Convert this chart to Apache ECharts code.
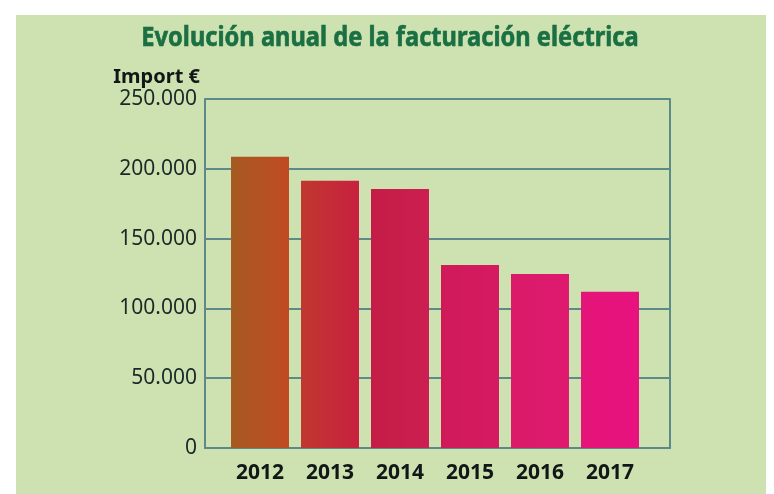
<!DOCTYPE html>
<html>
<head>
<meta charset="utf-8">
<script src="https://cdn.jsdelivr.net/npm/echarts@6/dist/echarts.min.js"></script>
<style>
html,body{margin:0;padding:0;background:#ffffff;}
#chart{width:774px;height:494px;}
</style>
</head>
<body>
<div id="chart"></div>
<script>
const titleText = 'Evolución anual de la facturación eléctrica';
const yAxisName = 'Import €';
const categories = ['2012', '2013', '2014', '2015', '2016', '2017'];
const values = [208700, 191500, 185500, 131000, 124600, 112000];
const colorsLeft = ['#a65a22', '#c0382f', '#c41d45', '#d01a58', '#da1a68', '#e41578'];
const colorsRight = ['#c04a22', '#c8203f', '#cc1e52', '#d61a62', '#df1a70', '#e8127f'];

const lineColor = '#5b8a88';
const fmt = v => v === 0 ? '0' : String(v).replace(/\B(?=(\d{3})+(?!\d))/g, '.');

const chart = echarts.init(document.getElementById('chart'), null, {renderer: 'canvas'});
const option = {
  backgroundColor: '#ffffff',
  animation: false,
  graphic: [
    {type: 'rect', z: -10, silent: true, shape: {x: 16, y: 15, width: 750, height: 479}, style: {fill: '#cde2b0'}},
    {type: 'text', z: 10, x: 390, y: 39, scaleX: 0.91,
      style: {text: titleText, x: 0, y: 0, align: 'center', verticalAlign: 'middle', fill: '#1a6f43',
        font: 'bold 26px "Noto Sans", sans-serif', stroke: '#1a6f43', lineWidth: 0.6}}
  ],
  grid: [
    {left: 205, right: 104, top: 99, bottom: 46},
    {left: 225, right: 129, top: 99, bottom: 46}
  ],
  xAxis: [
    {gridIndex: 0, type: 'value', min: 0, max: 1, axisLine: {show: true, onZero: false, lineStyle: {color: lineColor, width: 2}}, axisTick: {show: false}, axisLabel: {show: false}, splitLine: {show: false}},
    {gridIndex: 1, type: 'category', data: categories, axisLine: {show: false}, axisTick: {show: false},
      axisLabel: {margin: 15, color: '#111616', fontSize: 21, fontWeight: 'bold', fontFamily: '"Noto Sans", sans-serif'}}
  ],
  yAxis: [
    {gridIndex: 0, type: 'value', min: 0, max: 250000, interval: 50000,
      name: yAxisName, nameLocation: 'end', nameGap: 12,
      nameTextStyle: {align: 'right', color: '#111616', fontSize: 20, fontWeight: 'bold', fontFamily: '"Noto Sans", sans-serif', padding: [0, 5, 0, 0]},
      axisLine: {show: true, lineStyle: {color: lineColor, width: 2}}, axisTick: {show: false},
      axisLabel: {margin: 8, color: '#1a2828', fontSize: 21, fontFamily: '"Noto Sans", sans-serif', formatter: fmt},
      splitLine: {show: true, lineStyle: {color: lineColor, width: 2}}},
    {gridIndex: 0, type: 'value', position: 'right', min: 0, max: 250000, interval: 50000,
      axisLine: {show: true, lineStyle: {color: lineColor, width: 2}}, axisTick: {show: false}, axisLabel: {show: false}, splitLine: {show: false}},
    {gridIndex: 1, type: 'value', min: 0, max: 250000, interval: 50000, show: false}
  ],
  series: [{
    type: 'bar', xAxisIndex: 1, yAxisIndex: 2, barWidth: 58, z: 5,
    data: values.map((v, i) => ({
      value: v,
      itemStyle: {color: new echarts.graphic.LinearGradient(0, 0, 1, 0, [
        {offset: 0, color: colorsLeft[i]}, {offset: 1, color: colorsRight[i]}
      ])}
    }))
  }]
};
chart.setOption(option);
</script>
</body>
</html>
